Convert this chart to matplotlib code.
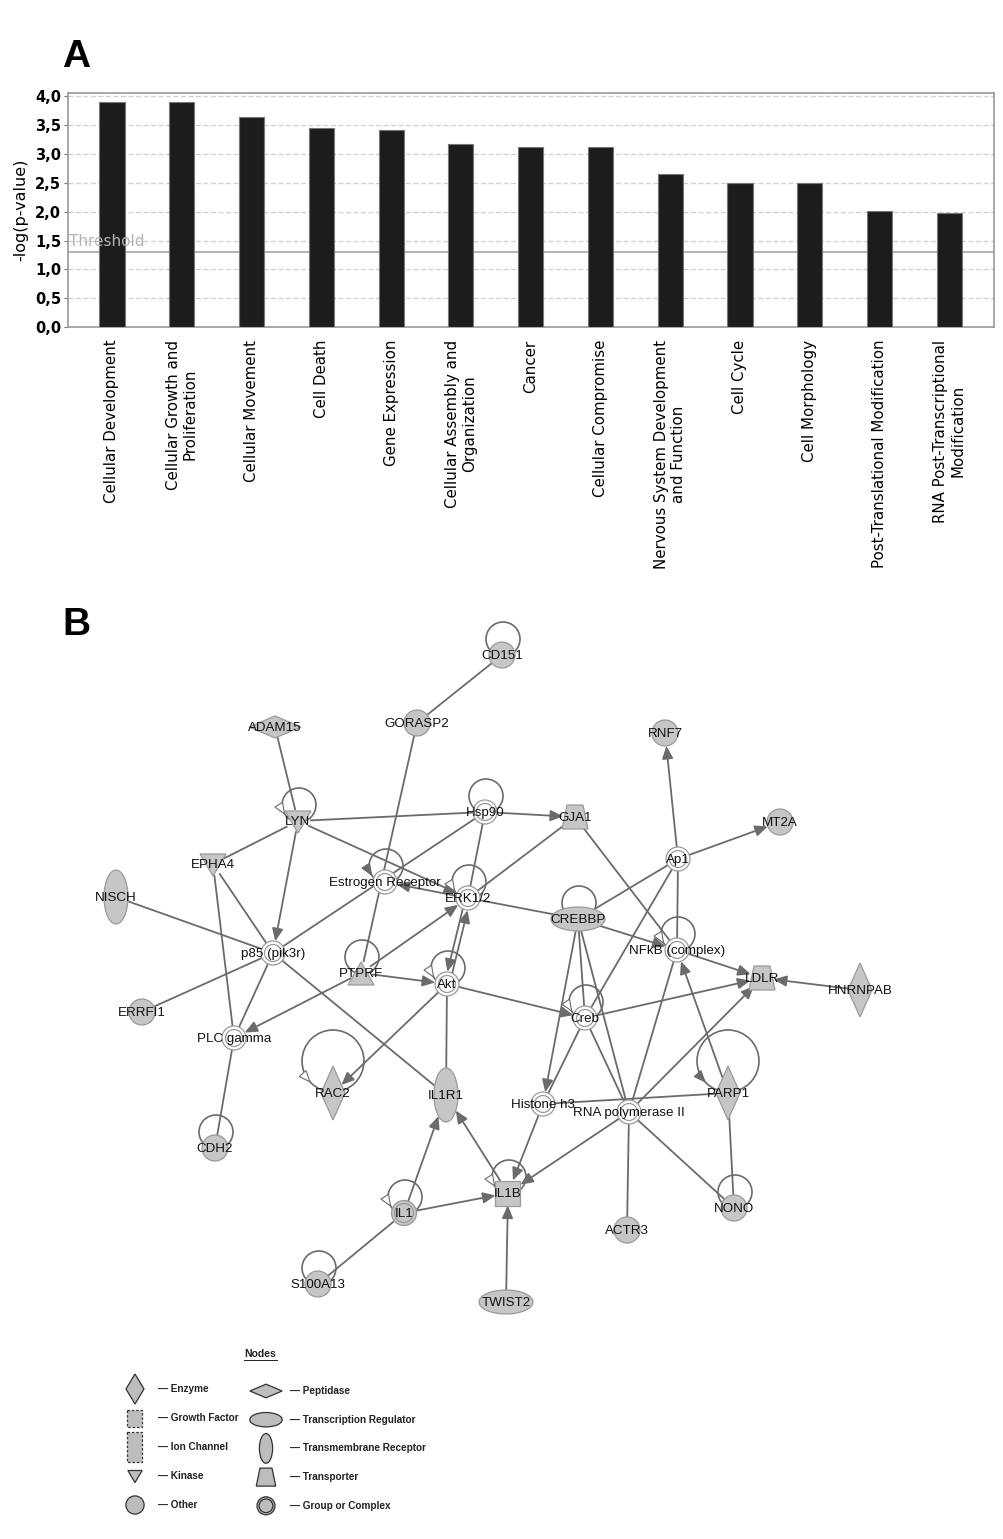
import numpy as np
import matplotlib
matplotlib.use("Agg")
import matplotlib.pyplot as plt
from matplotlib.patches import Circle, Ellipse, Polygon, Rectangle

# ---- panel A data ----
categories = ["Cellular Development", "Cellular Growth and\nProliferation",
              "Cellular Movement", "Cell Death", "Gene Expression",
              "Cellular Assembly and\nOrganization", "Cancer",
              "Cellular Compromise", "Nervous System Development\nand Function",
              "Cell Cycle", "Cell Morphology", "Post-Translational Modification",
              "RNA Post-Transcriptional\nModification"]
neg_log_p = [3.90, 3.90, 3.65, 3.46, 3.41, 3.17, 3.13, 3.13, 2.66, 2.49, 2.49, 2.02, 1.98]
threshold = 1.3
y_ticks = [0.0, 0.5, 1.0, 1.5, 2.0, 2.5, 3.0, 3.5, 4.0]

# ---- panel B data ----
node_types = {
    "CD151": "other", "GORASP2": "other", "ADAM15": "peptidase", "RNF7": "other",
    "MT2A": "other", "LYN": "kinase", "Hsp90": "complex", "GJA1": "transporter",
    "Ap1": "complex", "EPHA4": "kinase", "NISCH": "tmr",
    "Estrogen Receptor": "complex", "ERK1/2": "complex", "CREBBP": "tr",
    "NFkB (complex)": "complex", "p85 (pik3r)": "complex", "PTPRF": "phosphatase",
    "Akt": "complex", "LDLR": "transporter", "HNRNPAB": "enzyme", "Creb": "complex",
    "ERRFI1": "other", "PLC gamma": "complex", "RAC2": "enzyme", "IL1R1": "tmr",
    "Histone h3": "complex", "RNA polymerase II": "complex", "PARP1": "enzyme",
    "CDH2": "other", "IL1B": "growth", "IL1": "group", "NONO": "other",
    "ACTR3": "other", "S100A13": "other", "TWIST2": "tr",
}

# interactions: (source, target, directed)
edges = [
    ("CD151", "GORASP2", False), ("GORASP2", "PTPRF", False), ("ADAM15", "LYN", False),
    ("LYN", "Hsp90", False), ("LYN", "ERK1/2", True), ("LYN", "p85 (pik3r)", True),
    ("LYN", "EPHA4", False), ("EPHA4", "p85 (pik3r)", False), ("EPHA4", "PLC gamma", False),
    ("Hsp90", "GJA1", True), ("Hsp90", "p85 (pik3r)", False), ("Hsp90", "ERK1/2", False),
    ("ERK1/2", "Estrogen Receptor", True), ("ERK1/2", "GJA1", False),
    ("ERK1/2", "CREBBP", False), ("GJA1", "NFkB (complex)", False),
    ("Ap1", "RNF7", True), ("Ap1", "MT2A", True), ("Ap1", "CREBBP", False),
    ("Ap1", "Creb", False), ("Ap1", "NFkB (complex)", False),
    ("CREBBP", "NFkB (complex)", True), ("CREBBP", "Creb", False),
    ("CREBBP", "Histone h3", True), ("CREBBP", "RNA polymerase II", False),
    ("NFkB (complex)", "LDLR", True), ("NFkB (complex)", "RNA polymerase II", False),
    ("PARP1", "NFkB (complex)", True), ("HNRNPAB", "LDLR", True), ("Creb", "LDLR", True),
    ("RNA polymerase II", "LDLR", True), ("Akt", "Creb", True), ("Akt", "RAC2", True),
    ("Akt", "IL1R1", False), ("PTPRF", "Akt", True), ("PTPRF", "ERK1/2", True),
    ("PTPRF", "PLC gamma", True), ("p85 (pik3r)", "NISCH", False),
    ("p85 (pik3r)", "ERRFI1", False), ("p85 (pik3r)", "PLC gamma", False),
    ("p85 (pik3r)", "IL1R1", False), ("PLC gamma", "CDH2", False),
    ("IL1", "IL1R1", True), ("IL1", "IL1B", True), ("S100A13", "IL1", False),
    ("IL1B", "IL1R1", True), ("Histone h3", "IL1B", True),
    ("RNA polymerase II", "IL1B", True), ("TWIST2", "IL1B", True),
    ("Histone h3", "PARP1", False), ("Creb", "Histone h3", False),
    ("Creb", "RNA polymerase II", False), ("RNA polymerase II", "ACTR3", False),
    ("RNA polymerase II", "NONO", False), ("PARP1", "NONO", False),
]
# pair drawn as two parallel arrows
paired_edges = [("ERK1/2", "Akt"), ("Akt", "ERK1/2")]

# self-regulation loops: node -> arrowhead kind (None / "white" / "gray")
self_loops = {
    "CD151": None, "LYN": "white", "Hsp90": None, "Estrogen Receptor": "gray",
    "ERK1/2": "white", "CREBBP": None, "NFkB (complex)": "white", "PTPRF": None,
    "Akt": "white", "Creb": "white", "RAC2": "white", "PARP1": "gray", "CDH2": None,
    "IL1B": "white", "IL1": "white", "NONO": None, "S100A13": None,
}

legend_left = [("enzyme", "Enzyme"), ("growth_d", "Growth Factor"),
               ("ion", "Ion Channel"), ("kinase", "Kinase"), ("other", "Other")]
legend_right = [("peptidase", "Peptidase"), ("tr", "Transcription Regulator"),
                ("tmr", "Transmembrane Receptor"), ("transporter", "Transporter"),
                ("group", "Group or Complex")]

# ---- layout (pixel canvas of the figure) ----
layout = {
    "CD151": (502, 655), "GORASP2": (417, 723), "ADAM15": (275, 727), "RNF7": (665, 733),
    "MT2A": (780, 822), "LYN": (298, 821), "Hsp90": (485, 812), "GJA1": (575, 817),
    "Ap1": (678, 859), "EPHA4": (213, 864), "NISCH": (116, 897),
    "Estrogen Receptor": (385, 882), "ERK1/2": (468, 898), "CREBBP": (578, 919),
    "NFkB (complex)": (677, 950), "p85 (pik3r)": (273, 953), "PTPRF": (361, 973),
    "Akt": (447, 984), "LDLR": (762, 978), "HNRNPAB": (860, 990), "Creb": (585, 1018),
    "ERRFI1": (142, 1012), "PLC gamma": (234, 1038), "RAC2": (333, 1093),
    "IL1R1": (446, 1095), "Histone h3": (543, 1104), "RNA polymerase II": (629, 1112),
    "PARP1": (728, 1093), "CDH2": (215, 1148), "IL1B": (508, 1193), "IL1": (404, 1213),
    "NONO": (734, 1208), "ACTR3": (627, 1230), "S100A13": (318, 1284), "TWIST2": (506, 1302),
}

W, H = 1004, 1539
FILL = "#c6c6c6"
EDGE = "#9a9a9a"
LINE = "#6b6b6b"

fig = plt.figure(figsize=(W / 100, H / 100), dpi=100)
fig.patch.set_facecolor("white")

# full-figure canvas for panel B and panel letters
cv = fig.add_axes([0, 0, 1, 1])
cv.set_xlim(0, W)
cv.set_ylim(H, 0)
cv.axis("off")
cv.patch.set_alpha(0)

cv.text(62, 57, "A", fontsize=28, fontweight="bold", family="Liberation Sans",
        ha="left", va="center")
cv.text(62, 625, "B", fontsize=28, fontweight="bold", family="Liberation Sans",
        ha="left", va="center")

# ---- panel A ----
ax = fig.add_axes([68 / W, 1 - 327 / H, 926 / W, 234 / H])
x = np.arange(len(categories))
ax.bar(x, neg_log_p, width=0.36, color="#1c1c1c", edgecolor="#777777", linewidth=0.8, zorder=3)
ax.set_xlim(-0.63, len(categories) - 1 + 0.64)
ax.set_ylim(0, 4.06)
ax.set_yticks(y_ticks)
ax.set_yticklabels([f"{v:.1f}".replace(".", ",") for v in y_ticks],
                   fontsize=10.5, fontweight="bold", family="DejaVu Sans")
for v in y_ticks[1:]:
    ax.axhline(v, color="#cfcfcf", lw=0.9, ls=(0, (4, 2)), zorder=1)
ax.axhline(threshold, color="#a8a8a8", lw=1.2, zorder=2)
ax.text(-0.61, threshold + 0.05, "Threshold", color="#b4b4b4", fontsize=11,
        family="DejaVu Sans", ha="left", va="bottom", zorder=4)
ax.set_xticks(x)
ax.set_xticklabels(categories, rotation=90, fontsize=10.8, family="DejaVu Sans",
                   ha="center", va="top", multialignment="center", linespacing=1.15)
ax.tick_params(axis="x", length=0, pad=9)
ax.tick_params(axis="y", length=3, color="#777777", pad=2)
ax.set_ylabel("-log(p-value)", fontsize=11.5, family="DejaVu Sans", labelpad=5)
for s in ax.spines.values():
    s.set_color("#9a9a9a")
    s.set_linewidth(1.2)


# ---- panel B helpers ----
half_size = {
    "other": (13, 13, "ell"), "complex": (12, 12, "ell"), "group": (13, 13, "ell"),
    "kinase": (12, 11, "ell"), "phosphatase": (12, 11, "ell"),
    "transporter": (12, 11, "ell"), "enzyme": (12, 27, "dia"),
    "peptidase": (26, 11, "dia"), "tr": (27, 12, "ell"), "tmr": (12, 27, "ell"),
    "growth": (12.5, 12.5, "rect"),
}


def boundary(kind, ux, uy):
    a, b, form = half_size[kind]
    if form == "ell":
        return 1.0 / np.sqrt((ux / a) ** 2 + (uy / b) ** 2)
    if form == "dia":
        return 1.0 / (abs(ux) / a + abs(uy) / b)
    return min(a / max(abs(ux), 1e-9), b / max(abs(uy), 1e-9))


def draw_shape(axx, kind, x, y, s=1.0, fc=FILL, ec=EDGE, lw=0.9, z=5):
    if kind == "other":
        axx.add_patch(Circle((x, y), 13 * s, fc=fc, ec=ec, lw=lw, zorder=z))
    elif kind == "complex":
        axx.add_patch(Circle((x, y), 12 * s, fc="white", ec=ec, lw=lw, zorder=z))
        axx.add_patch(Circle((x, y), 8.5 * s, fc="white", ec=ec, lw=lw, zorder=z))
    elif kind == "group":
        axx.add_patch(Circle((x, y), 12.5 * s, fc=fc, ec=ec, lw=lw, zorder=z))
        axx.add_patch(Circle((x, y), 9.5 * s, fc=fc, ec=ec, lw=lw, zorder=z))
    elif kind == "kinase":
        pts = [(x - 13 * s, y - 10 * s), (x + 13 * s, y - 10 * s), (x, y + 12 * s)]
        axx.add_patch(Polygon(pts, closed=True, fc=fc, ec=ec, lw=lw, zorder=z))
    elif kind == "phosphatase":
        pts = [(x - 13 * s, y + 12 * s), (x + 13 * s, y + 12 * s), (x, y - 11 * s)]
        axx.add_patch(Polygon(pts, closed=True, fc=fc, ec=ec, lw=lw, zorder=z))
    elif kind == "transporter":
        pts = [(x - 8 * s, y - 12 * s), (x + 8 * s, y - 12 * s),
               (x + 13 * s, y + 12 * s), (x - 13 * s, y + 12 * s)]
        axx.add_patch(Polygon(pts, closed=True, fc=fc, ec=ec, lw=lw, zorder=z))
    elif kind == "enzyme":
        pts = [(x, y - 27 * s), (x + 12 * s, y), (x, y + 27 * s), (x - 12 * s, y)]
        axx.add_patch(Polygon(pts, closed=True, fc=fc, ec=ec, lw=lw, zorder=z))
    elif kind == "enzyme_l":
        pts = [(x, y - 15), (x + 9, y), (x, y + 15), (x - 9, y)]
        axx.add_patch(Polygon(pts, closed=True, fc=fc, ec=ec, lw=lw, zorder=z))
    elif kind == "peptidase":
        pts = [(x - 26 * s, y), (x, y - 11 * s), (x + 26 * s, y), (x, y + 11 * s)]
        axx.add_patch(Polygon(pts, closed=True, fc=fc, ec=ec, lw=lw, zorder=z))
    elif kind == "tr":
        axx.add_patch(Ellipse((x, y), 54 * s, 24 * s, fc=fc, ec=ec, lw=lw, zorder=z))
    elif kind == "tmr":
        axx.add_patch(Ellipse((x, y), 24 * s, 54 * s, fc=fc, ec=ec, lw=lw, zorder=z))
    elif kind == "growth":
        axx.add_patch(Rectangle((x - 12.5 * s, y - 12.5 * s), 25 * s, 25 * s,
                                fc=fc, ec=ec, lw=lw, zorder=z))
    elif kind == "growth_d":
        axx.add_patch(Rectangle((x - 7.5, y - 8.5), 15, 17, fc=fc, ec=ec, lw=lw,
                                ls=(0, (2, 1.5)), zorder=z))
    elif kind == "ion":
        axx.add_patch(Rectangle((x - 7.5, y - 15), 15, 30, fc=fc, ec=ec, lw=lw,
                                ls=(0, (2, 1.5)), zorder=z))


def head(axx, tip, d, fc, length=10, width=9):
    d = np.asarray(d) / np.linalg.norm(d)
    n = np.array([-d[1], d[0]])
    tip = np.asarray(tip)
    base = tip - d * length
    pts = [tip, base + n * width / 2, base - n * width / 2]
    axx.add_patch(Polygon(pts, closed=True, fc=fc, ec=LINE, lw=0.8, zorder=7))


def draw_edge(src, dst, directed, offset=0.0):
    (x0, y0), (x1, y1) = layout[src], layout[dst]
    d = np.array([x1 - x0, y1 - y0], dtype=float)
    u = d / np.linalg.norm(d)
    nrm = np.array([-u[1], u[0]]) * offset
    p0 = np.array([x0, y0]) + u * boundary(node_types[src], *u) + nrm
    p1 = np.array([x1, y1]) - u * boundary(node_types[dst], *u) + nrm
    if directed:
        cv.annotate("", xy=p1, xytext=p0, zorder=4,
                    arrowprops=dict(arrowstyle="-|>,head_length=0.75,head_width=0.33",
                                    color=LINE, lw=1.3, shrinkA=0, shrinkB=0,
                                    mutation_scale=10))
    else:
        cv.plot([p0[0], p1[0]], [p0[1], p1[1]], color=LINE, lw=1.3, zorder=4,
                solid_capstyle="butt")


for s_, t_, dr in edges:
    draw_edge(s_, t_, dr)
draw_edge(*paired_edges[0], True, offset=2.5)
draw_edge(*paired_edges[1], True, offset=2.5)

# self loops
big_loops = {"RAC2", "PARP1"}
for name, arrow in self_loops.items():
    x0, y0 = layout[name]
    if name in big_loops:
        r, cx, cy = 31, x0, y0 - 32
    else:
        r, cx, cy = 17, x0 + 1, y0 - 16
    cv.add_patch(Circle((cx, cy), r, fill=False, ec=LINE, lw=1.2, zorder=3))
    if arrow:
        t = np.deg2rad(138 if name in big_loops else 148)
        tip = (cx + r * np.cos(t), cy + r * np.sin(t))
        tang = (np.sin(t), -np.cos(t))  # direction of decreasing angle
        head(cv, tip, tang, "white" if arrow == "white" else LINE, length=11, width=9)

for name, kind in node_types.items():
    x0, y0 = layout[name]
    draw_shape(cv, kind, x0, y0)
    cv.text(x0, y0 + 1, name, fontsize=9.6, family="Liberation Sans",
            ha="center", va="center", zorder=8, color="#111111")

# legend
cv.text(260, 1354, "Nodes", fontsize=7.5, fontweight="bold", family="Liberation Sans",
        ha="center", va="center", color="#222222")
cv.plot([244, 277], [1359.5, 1359.5], color="#222222", lw=0.7)
LFILL, LEDGE = "#bdbdbd", "#333333"
leg_small = {"kinase": 0.55, "other": 0.7, "peptidase": 0.62,
             "tr": 0.6, "tmr": 0.55, "transporter": 0.75, "group": 0.72}
for i, (kind, label) in enumerate(legend_left):
    yy = 1389 + i * 29
    k = "enzyme_l" if kind == "enzyme" else kind
    draw_shape(cv, k, 135, yy, s=leg_small.get(kind, 1.0), fc=LFILL, ec=LEDGE, lw=0.9)
    cv.text(158, yy, "\u2014 " + label, fontsize=7.2, fontweight="bold",
            family="Liberation Sans", ha="left", va="center", color="#222222")
for i, (kind, label) in enumerate(legend_right):
    yy = 1391 + i * 28.7
    draw_shape(cv, kind, 266, yy, s=leg_small.get(kind, 1.0), fc=LFILL, ec=LEDGE, lw=0.9)
    cv.text(290, yy, "\u2014 " + label, fontsize=7.2, fontweight="bold",
            family="Liberation Sans", ha="left", va="center", color="#222222")

fig.savefig("out.png", dpi=100, facecolor="white")
